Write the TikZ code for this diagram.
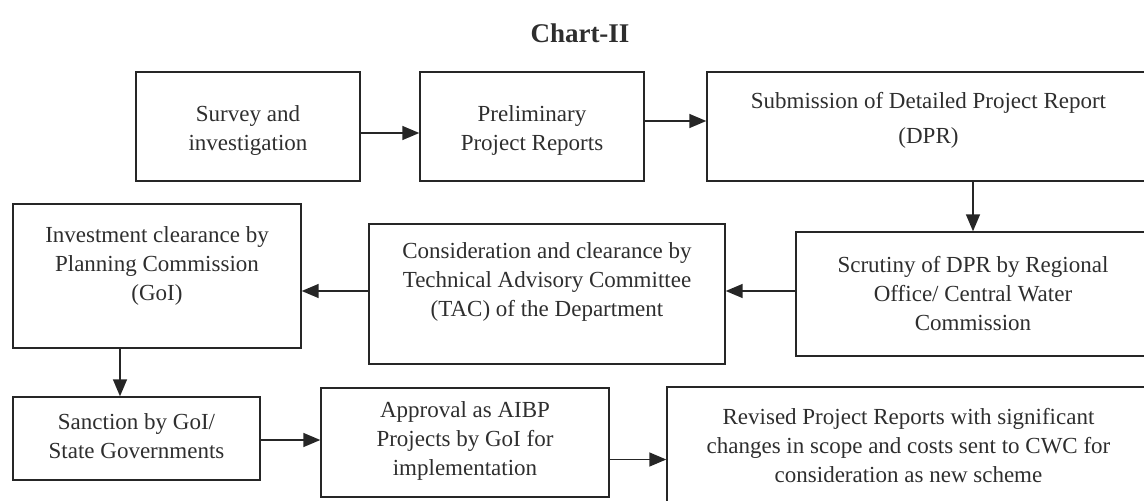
\documentclass[tikz,border=0pt]{standalone}
\usepackage{fontspec}
\setmainfont{Liberation Serif}
\usetikzlibrary{arrows.meta}
\definecolor{linec}{HTML}{262626}
\definecolor{textc}{HTML}{2E2E2E}
\begin{document}
\begin{tikzpicture}[x=1pt,y=-1pt,
  box/.style={draw=linec, line width=1.4pt, rectangle, inner sep=0pt, anchor=center},
  txt/.style={align=center, font=\fontsize{23}{29}\selectfont, text=textc, inner sep=0pt},
  arr/.style={draw=linec, line width=1.5pt, -{Triangle[length=17pt,width=14pt]}}]
\useasboundingbox (0,0) rectangle (1144,501);
\clip (0,0) rectangle (1144,501);
% title
\node[font=\fontsize{27}{32}\selectfont\bfseries, text=textc] (title) at (580,33) {Chart-II};
% boxes
\node[box, minimum width=224pt, minimum height=109pt] (b1) at (248,126.5) {};
\node[box, minimum width=224pt, minimum height=109pt] (b2) at (532,126.5) {};
\node[box, minimum width=443pt, minimum height=109pt] (b3) at (928.5,126.5) {};
\node[box, minimum width=354pt, minimum height=124pt] (scr) at (973,294) {};
\node[box, minimum width=356pt, minimum height=140pt] (tac) at (547,294) {};
\node[box, minimum width=288pt, minimum height=144pt] (inv) at (157,276) {};
\node[box, minimum width=247pt, minimum height=83pt] (san) at (136.5,438.5) {};
\node[box, minimum width=288pt, minimum height=109pt] (app) at (465,442.5) {};
\node[box, minimum width=483pt, minimum height=128pt] (rev) at (908.5,451) {};
% texts
\node[txt] (t1) at ([yshift=-4pt]b1.center) {Survey and\\investigation};
\node[txt] (t2) at ([yshift=-4pt]b2.center) {Preliminary\\Project Reports};
\node[txt, align=center] (t3) at ([yshift=6pt]b3.center) {Submission of Detailed Project Report\\[6pt](DPR)};
\node[txt] (t4) at (scr.center) {Scrutiny of DPR by Regional\\Office/ Central Water\\Commission};
\node[txt] (t5) at ([yshift=12pt]tac.center) {Consideration and clearance by\\Technical Advisory Committee\\(TAC) of the Department};
\node[txt] (t6) at ([yshift=10pt]inv.center) {Investment clearance by\\Planning Commission\\(GoI)};
\node[txt] (t7) at ([yshift=2pt]san.center) {Sanction by GoI/\\State Governments};
\node[txt] (t8) at ([yshift=2pt]app.center) {Approval as AIBP\\Projects by GoI for\\implementation};
\node[txt] (t9) at ([yshift=5pt]rev.center) {Revised Project Reports with significant\\changes in scope and costs sent to CWC for\\consideration as new scheme};
% connectors
\draw[arr] ([yshift=-6.5pt]b1.east) -- ([yshift=-6.5pt]b2.west);
\draw[arr] ([yshift=5.5pt]b2.east) -- ([yshift=5.5pt]b3.west);
\draw[arr] (b3.south -| scr.north) -- (scr.north);
\draw[arr] ([yshift=3pt]scr.west) -- ([yshift=3pt]tac.east);
\draw[arr] ([yshift=3pt]tac.west) coordinate (p1) -- (inv.east |- p1);
\draw[arr] ([xshift=-37pt]inv.south) coordinate (p2) -- (p2 |- san.north);
\draw[arr] ([yshift=-1.5pt]san.east) coordinate (p3) -- (app.west |- p3);
\draw[arr] ([yshift=-17pt]app.east) coordinate (p4) -- (rev.west |- p4);
\end{tikzpicture}
\end{document}
